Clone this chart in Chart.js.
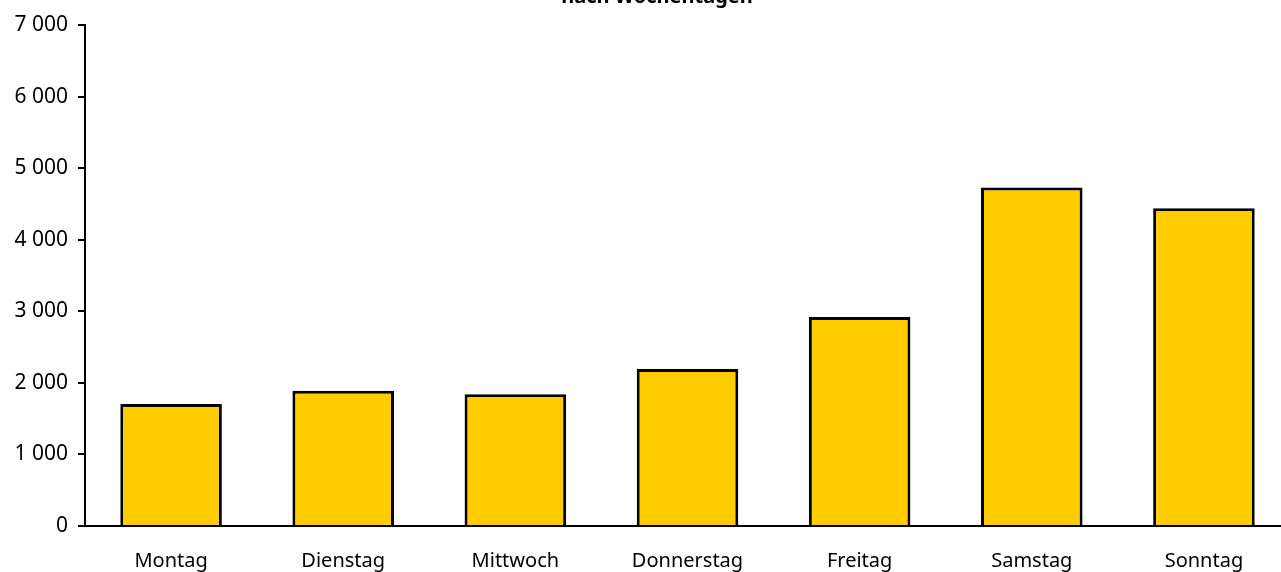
<!DOCTYPE html>
<html lang="de">
<head>
<meta charset="utf-8">
<title>nach Wochentagen</title>
<script src="https://cdn.jsdelivr.net/npm/chart.js@4/dist/chart.umd.min.js"></script>
<style>
    html, body { margin: 0; padding: 0; background: #fff; }
    body { width: 1281px; height: 572px; overflow: hidden; position: relative; }
    #chart { position: absolute; left: 0; top: -30px; }
</style>
</head>
<body>
<canvas id="chart" width="1291" height="630"></canvas>
<script>
// Chart data
const titleText = 'nach Wochentagen';
const days = ['Montag', 'Dienstag', 'Mittwoch', 'Donnerstag', 'Freitag', 'Samstag', 'Sonntag'];
const counts = [1705, 1890, 1840, 2195, 2920, 4730, 4440];
const yTicks = [0, 1000, 2000, 3000, 4000, 5000, 6000, 7000];

const fontFamily = '"Noto Sans", "Open Sans", sans-serif';

// format numbers like "7 000"
function fmt(v) {
    return String(v).replace(/\B(?=(\d{3})+(?!\d))/g, ' ');
}

// draw the (cut off) title line above the plot
const titlePlugin = {
    id: 'cutTitle',
    afterDraw(chart) {
        const ctx = chart.ctx;
        ctx.save();
        ctx.font = 'bold 20px ' + fontFamily;
        ctx.fillStyle = '#000';
        ctx.textAlign = 'center';
        ctx.textBaseline = 'alphabetic';
        ctx.fillText(titleText, 657, 33);
        ctx.restore();
    }
};

const ctx = document.getElementById('chart').getContext('2d');
new Chart(ctx, {
    type: 'bar',
    data: {
        labels: days,
        datasets: [{
            data: counts,
            backgroundColor: '#FFCC00',
            borderColor: '#000',
            borderWidth: 3,
            borderSkipped: 'bottom',
            barPercentage: 0.59,
            categoryPercentage: 1
        }]
    },
    options: {
        responsive: false,
        animation: false,
        layout: { padding: { top: 55, right: 1, bottom: 0, left: 0 } },
        plugins: {
            legend: { display: false },
            tooltip: { enabled: false }
        },
        scales: {
            x: {
                grid: { display: false, drawTicks: false },
                border: { display: true, color: '#000', width: 2 },
                ticks: {
                    color: '#000',
                    padding: 23,
                    font: { family: fontFamily, size: 20 },
                    maxRotation: 0
                },
                afterFit(scale) { scale.height = 74; }
            },
            y: {
                min: 0,
                max: 7000,
                afterBuildTicks(scale) {
                    scale.ticks = yTicks.map(v => ({ value: v }));
                },
                grid: {
                    drawOnChartArea: false,
                    drawTicks: true,
                    tickLength: 7,
                    color: '#000',
                    lineWidth: 2
                },
                border: { display: true, color: '#000', width: 2 },
                ticks: {
                    color: '#000',
                    padding: 10,
                    font: { family: fontFamily, size: 21 },
                    callback: v => fmt(v)
                },
                afterFit(scale) { scale.width = 85; }
            }
        }
    },
    plugins: [titlePlugin]
});
</script>
</body>
</html>
